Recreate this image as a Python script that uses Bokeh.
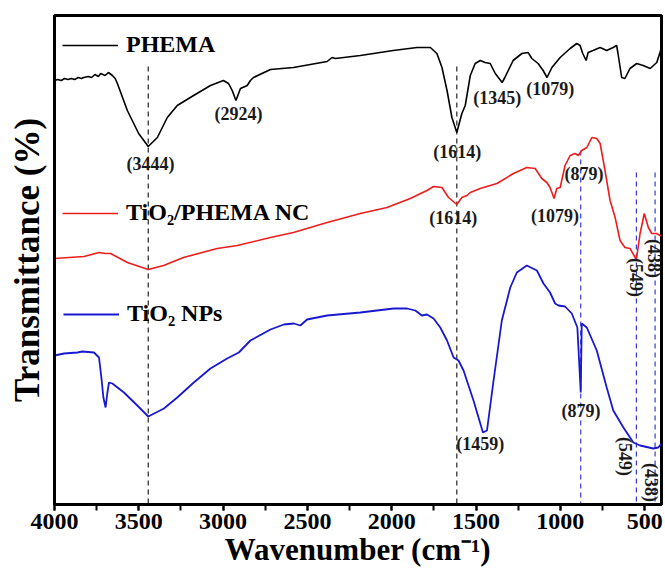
import math
from bokeh.plotting import figure
from bokeh.models import Range1d, FixedTicker, Legend, LegendItem, ColumnDataSource
from bokeh.core.properties import value
from bokeh.embed import file_html
from bokeh.resources import INLINE

# ---------------- data (wavenumber in cm-1, transmittance in arbitrary units, stacked) ----------------
phema_wn = [4000, 3980, 3960, 3940, 3920, 3900, 3880, 3860, 3840, 3827,
            3800, 3780, 3760, 3740, 3726, 3700, 3680, 3657, 3640, 3627,
            3568, 3501, 3444, 3390, 3331, 3272, 3175, 3075, 2998, 2968,
            2946, 2924, 2897, 2857, 2838, 2820, 2719, 2583, 2383, 2354,
            2334, 2186, 1991, 1850, 1771, 1732, 1702, 1672, 1643, 1614,
            1584, 1564, 1534, 1505, 1475, 1446, 1416, 1386, 1345, 1329,
            1280, 1228, 1191, 1169, 1132, 1102, 1079, 1050, 1001, 942,
            902, 883, 867, 847, 835, 806, 764, 725, 687, 666,
            658, 636, 617, 587, 547, 509, 467, 428, 409, 400]
phema_t = [423, 424, 423, 425, 424, 425, 424, 426, 425, 426,
           427, 426, 429, 427, 430, 428, 431, 428, 425, 420,
           393, 370, 357, 366, 386, 398, 408, 418, 423, 420,
           413, 403, 415, 418, 423, 426, 434, 436, 442, 446,
           445, 448, 453, 456, 456, 450, 436, 413, 386, 371,
           390, 398, 428, 440, 443, 441, 440, 430, 421, 426,
           443, 450, 451, 445, 440, 433, 426, 436, 446, 455,
           460, 458, 450, 443, 451, 453, 456, 453, 456, 458,
           450, 426, 425, 435, 440, 438, 435, 441, 451, 456]

nc_wn = [4000, 3825, 3736, 3697, 3667, 3568, 3444, 3353, 3235, 3035,
         2916, 2719, 2583, 2383, 2186, 2028, 1890, 1791, 1752, 1702,
         1663, 1614, 1584, 1554, 1534, 1475, 1376, 1278, 1199, 1149,
         1110, 1080, 1061, 1037, 1021, 1001, 972, 942, 913, 893,
         873, 843, 813, 784, 764, 735, 705, 675, 646, 617,
         587, 549, 527, 502, 478, 458, 429, 409, 400]
nc_t = [245, 247, 251, 250, 250, 241, 234, 238, 246, 255,
        258, 266, 271, 281, 290, 296, 305, 313, 317, 316,
        306, 299, 306, 308, 311, 315, 320, 330, 336, 335,
        325, 321, 316, 305, 315, 316, 338, 348, 350, 348,
        353, 356, 366, 365, 360, 333, 303, 286, 263, 256,
        255, 244, 270, 290, 276, 270, 270, 268, 268]

tio2_wn = [4000, 3944, 3864, 3835, 3766, 3736, 3722, 3710, 3697, 3687,
           3677, 3657, 3588, 3509, 3444, 3351, 3272, 3174, 3075, 2976,
           2907, 2838, 2719, 2640, 2581, 2542, 2502, 2383, 2186, 1989,
           1909, 1860, 1821, 1791, 1752, 1712, 1672, 1633, 1604, 1574,
           1515, 1459, 1435, 1396, 1347, 1297, 1258, 1199, 1139, 1100,
           1061, 1031, 1011, 972, 932, 899, 879, 873, 843, 784,
           725, 686, 626, 567, 527, 449, 419, 400]
tio2_t = [148, 150, 151, 152, 151, 146, 126, 106, 96, 110,
          121, 120, 111, 98, 87, 95, 106, 121, 135, 145,
          151, 163, 174, 179, 180, 178, 184, 188, 191, 195,
          195, 193, 188, 189, 185, 176, 163, 146, 143, 133,
          103, 71, 73, 123, 183, 216, 231, 238, 233, 220,
          211, 200, 198, 197, 190, 176, 111, 180, 176, 153,
          116, 93, 76, 61, 58, 55, 56, 60]

series_names = ["PHEMA", "TiO\u2082/PHEMA NC", "TiO\u2082 NPs"]

peak_lines_black = [3444, 1614]
peak_lines_blue = [879, 549, 438]

peak_text = ["(3444)", "(2924)", "(1614)", "(1345)", "(1079)",
             "(1614)", "(1079)", "(879)", "(549)", "(438)",
             "(879)", "(1459)", "(549)", "(438)"]

x_ticks = [4000, 3500, 3000, 2500, 2000, 1500, 1000, 500]

# ---------------- layout helpers (positions of annotations) ----------------
label_x = [3430, 2909, 1611, 1374, 1060, 1635, 1031, 859, 551, 444, 877, 1475, 616, 462]
label_y = [340, 390, 352, 406, 415, 286, 288, 330, 226, 245, 93, 60, 47, 21]
label_angle = [0, 0, 0, 0, 0, 0, 0, 0, -math.pi / 2, -math.pi / 2, 0, 0, -math.pi / 2, -math.pi / 2]

FONT = "Liberation Serif"

p = figure(width=665, height=577,
           x_range=Range1d(4000, 400), y_range=Range1d(-1, 488),
           output_backend="svg", toolbar_location=None,
           min_border_left=54, min_border_right=4, min_border_top=15, min_border_bottom=73)

p.background_fill_color = "white"
p.border_fill_color = "white"
p.xgrid.visible = False
p.ygrid.visible = False
p.outline_line_color = "black"
p.outline_line_width = 3

# x axis
p.xaxis.ticker = FixedTicker(ticks=x_ticks, minor_ticks=list(range(4000, 399, -250)))
p.xaxis.axis_line_width = 3
p.xaxis.major_tick_line_width = 2
p.xaxis.minor_tick_line_width = 2
p.xaxis.major_tick_in = 0
p.xaxis.major_tick_out = 6
p.xaxis.minor_tick_in = 0
p.xaxis.minor_tick_out = 6
p.xaxis.major_label_text_font = FONT
p.xaxis.major_label_text_font_style = "bold"
p.xaxis.major_label_text_font_size = "24px"
p.xaxis.major_label_text_color = "black"
p.xaxis.major_label_standoff = 3
p.xaxis.axis_label = "Wavenumber (cm\u207b\u00b9)"
p.xaxis.axis_label_text_font = FONT
p.xaxis.axis_label_text_font_style = "bold"
p.xaxis.axis_label_text_font_size = "31px"
p.xaxis.axis_label_text_color = "black"
p.xaxis.axis_label_standoff = 0

# y axis
p.yaxis.ticker = FixedTicker(ticks=[], minor_ticks=[])
p.yaxis.axis_line_width = 3
p.yaxis.major_tick_out = 0
p.yaxis.major_tick_in = 0
p.yaxis.minor_tick_out = 0
p.yaxis.minor_tick_in = 0
p.yaxis.major_label_text_font_size = "0px"
p.yaxis.axis_label = "Transmittance (%)"
p.yaxis.axis_label_text_font = FONT
p.yaxis.axis_label_text_font_style = "bold"
p.yaxis.axis_label_text_font_size = "35px"
p.yaxis.axis_label_text_color = "black"
p.yaxis.axis_label_standoff = 8

# dashed guide lines
top_black = [437] * len(peak_lines_black)
top_blue = [353, 331, 331]
p.segment(x0=peak_lines_black, x1=peak_lines_black, y0=top_black, y1=[-1] * len(peak_lines_black),
          line_color="#222222", line_width=1.2, line_dash="5 4")
p.segment(x0=peak_lines_blue, x1=peak_lines_blue, y0=top_blue, y1=[-1] * len(peak_lines_blue),
          line_color="#3a3ad8", line_width=1.2, line_dash="5 4")

# spectra
r1 = p.line(phema_wn, phema_t, line_color="black", line_width=1.6)
r2 = p.line(nc_wn, nc_t, line_color="#ee1c1c", line_width=1.6)
r3 = p.line(tio2_wn, tio2_t, line_color="#1818d0", line_width=1.8)

# peak labels
src = ColumnDataSource(dict(x=label_x, y=label_y, text=peak_text, angle=label_angle))
p.text(x="x", y="y", text="text", angle="angle", source=src,
       text_align="center", text_baseline="middle",
       text_font=value(FONT), text_font_style="bold", text_font_size="18px", text_color="#1a1a1a")

# legends placed beside each curve
legend_pos = [(8, 446), (8, 278), (9, 177)]
for name, rend, loc in zip(series_names, [r1, r2, r3], legend_pos):
    lg = Legend(items=[LegendItem(label=name, renderers=[rend])], location=loc,
                border_line_color=None, background_fill_alpha=0,
                padding=0, margin=0, spacing=0,
                glyph_width=56, glyph_height=20, label_standoff=8,
                label_text_font=FONT, label_text_font_style="bold",
                label_text_font_size="24px", label_text_color="black")
    p.add_layout(lg, "center")

open("out.html", "w").write(file_html(p, INLINE))
